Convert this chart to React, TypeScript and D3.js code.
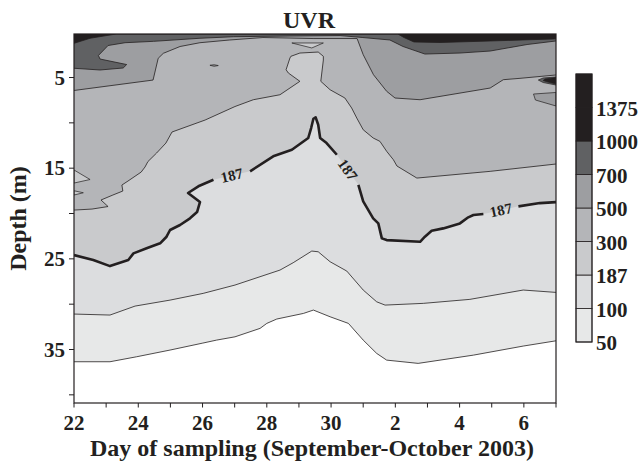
import React from "react";
import * as d3 from "d3";

type P = [number, number];

// Day numbers: 22..30 = September, 31 = 1 October ... 37 = 7 October
const dayRange: [number, number] = [22, 37];
const depthRange: [number, number] = [0.2, 40.9];
const xTickDays = [22, 23, 24, 25, 26, 27, 28, 29, 30, 31, 32, 33, 34, 35, 36, 37];
const xLabelDays = [22, 24, 26, 28, 30, 32, 34, 36];
const xLabelText = ["22", "24", "26", "28", "30", "2", "4", "6"];
const yTickDepths = [5, 10, 15, 20, 25, 30, 35, 40];
const yLabelDepths = [5, 15, 25, 35];

// UVR contour levels (colour bar)
const levels = [50, 100, 187, 300, 500, 700, 1000, 1375];
const bandColors = ["#e7e8e8", "#dcdddf", "#c9cacc", "#b4b5b8", "#9d9ea1", "#606163", "#231f20", "#231f20"];
const belowLowestColor = "#ffffff";

// Isolines: [day, depth (m)]
const iso50: P[] = [[22, 36.35], [23.12, 36.35], [23.95, 35.8], [24.99, 35.06], [26.01, 34.29], [26.44, 33.96], [27.01, 33.6], [27.79, 32.67], [28.0, 32.12], [28.31, 31.64], [29.14, 31.02], [29.45, 30.65], [29.97, 31.39], [30.54, 32.12], [31.0, 33.96], [31.42, 35.43], [31.73, 36.17], [32.71, 36.53], [34.43, 35.62], [35.98, 34.62], [37, 34.04]];
const iso100: P[] = [[22, 31.09], [23.12, 31.2], [23.9, 30.21], [24.99, 29.55], [26.02, 28.81], [27.01, 27.89], [28.41, 26.24], [28.82, 25.43], [29.4, 24.14], [29.6, 24.22], [29.97, 25.32], [30.49, 26.35], [31.0, 28.44], [31.42, 29.74], [31.68, 30.1], [32.87, 29.91], [34.32, 29.47], [35.98, 28.44], [37, 28.7]];
const iso187: P[] = [[22, 24.58], [22.6, 25.13], [23.12, 25.8], [23.69, 25.13], [23.85, 24.4], [24.26, 23.84], [24.68, 23.29], [24.88, 22.56], [24.99, 21.82], [25.3, 21.27], [25.61, 20.53], [25.83, 19.84], [25.92, 18.74], [25.55, 17.74], [25.87, 17.0], [26.34, 16.28], [27.48, 15.35], [28.2, 13.69], [28.78, 12.97], [29.29, 11.67], [29.38, 10.57], [29.45, 9.55], [29.52, 9.39], [29.6, 10.21], [29.66, 11.67], [29.86, 12.23], [30.18, 13.52], [30.85, 16.83], [31.0, 18.66], [31.16, 19.62], [31.31, 20.53], [31.47, 21.09], [31.58, 22.74], [31.73, 22.93], [32.77, 23.12], [32.92, 22.56], [33.13, 21.9], [33.49, 21.64], [34.01, 21.09], [34.27, 20.42], [34.43, 20.17], [34.74, 20.06], [35.83, 19.21], [36.5, 18.85], [37, 18.74]];
const iso300: P[] = [[22, 19.62], [22.56, 19.51], [23.06, 19.23], [22.84, 18.51], [23.21, 17.96], [23.52, 17.52], [23.49, 16.86], [23.68, 16.42], [24.09, 15.43], [24.21, 14.87], [24.3, 14.27], [24.57, 13.33], [24.86, 12.23], [25.05, 11.01], [26.08, 9.69], [27.01, 8.2], [27.58, 7.45], [28.41, 6.9], [29.03, 5.42], [28.67, 4.5], [28.6, 4.14], [28.72, 2.85], [28.75, 2.66], [29.03, 2.3], [29.6, 2.19], [29.76, 2.66], [29.76, 3.07], [29.68, 5.42], [29.97, 6.35], [30.43, 7.26], [30.64, 8.36], [30.8, 9.47], [31.0, 10.76], [31.31, 11.67], [31.52, 12.04], [31.73, 13.14], [31.94, 14.07], [32.05, 14.76], [32.67, 16.09], [34.95, 15.35], [37, 14.54]];
const iso500: P[] = [[22, 6.43], [24.46, 5.28], [24.62, 2.88], [24.78, 2.33], [25.3, 1.58], [25.92, 1.16], [26.85, 0.86], [27.88, 0.59], [29.44, 0.7], [30.81, 0.7], [31.0, 2.48], [31.32, 4.69], [31.73, 6.52], [31.99, 7.26], [32.77, 7.45], [34.95, 6.16], [35.36, 5.24], [35.88, 5.09], [37, 4.72]];
const iso700: P[] = [[22, 3.98], [22.81, 4.17], [23.53, 3.95], [23.64, 3.57], [22.81, 2.96], [22.76, 2.57], [23.06, 1.47], [23.59, 1.16], [24.47, 1.01], [25.92, 0.67], [26.96, 0.5], [28.72, 0.42], [30.28, 0.37], [30.99, 0.59], [31.83, 0.86], [32.24, 1.58], [32.92, 2.41], [34.01, 2.3], [34.95, 2.08], [36.1, 1.36], [37, 0.97]];
const iso1000: P[] = [[22, 1.23], [22.5, 0.67], [23.12, 0.31], [23.31, 0.2], [32.08, 0.2], [32.27, 0.59], [32.58, 1.08], [33.39, 1.14], [34.95, 0.97], [36.91, 0.75], [37, 0.72]];

// small closed contours: points + band index of their interior
const wedge300a: P[] = [[22, 15.2], [22.5, 16.25], [22, 16.64]];
const wedge300b: P[] = [[22, 17.49], [22.29, 17.71], [22, 17.96]];
const patch300Top: P[] = [[28.78, 1.19], [29.76, 1.19], [29.4, 1.74]];
const wedge500Right: P[] = [[37, 6.65], [36.3, 6.82], [36.36, 7.48], [37, 8.14]];
const dash500: P[] = [[26.23, 3.65], [26.36, 3.59], [26.49, 3.68], [26.36, 3.76]];
const wedge700Right: P[] = [[37, 4.94], [36.6, 5.05], [36.45, 5.28], [36.6, 5.55], [37, 5.83]];
const wedge1000Right: P[] = [[37, 5.0], [36.66, 5.16], [36.6, 5.33], [36.75, 5.5], [37, 5.72]];

// label gaps on the 187 isoline (point index pairs)
const labelGaps187: [number, number][] = [[15, 16], [26, 27], [41, 42]];

const ink = "#231f20";
const font = "'Liberation Serif', 'Times New Roman', serif";

export default function App() {
  const x = d3.scaleLinear().domain(dayRange).range([74, 556]);
  const y = d3.scaleLinear().domain(depthRange).range([34, 403]);
  const line = d3.line<P>().x((d) => x(d[0])).y((d) => y(d[1]));
  const [d0, d1] = dayRange;
  const zMax = depthRange[1];
  const below = (pts: P[]) => (line([...pts, [d1, zMax], [d0, zMax]]) || "") + "Z";
  const closed = (pts: P[]) => (line(pts) || "") + "Z";

  const isolines = [iso50, iso100, iso187, iso300, iso500, iso700, iso1000];
  const fills = isolines
    .map((pts, k) => ({ pts, color: k === 0 ? belowLowestColor : bandColors[k - 1] }))
    .reverse();

  const extras: { pts: P[]; band: number }[] = [
    { pts: wedge500Right, band: 4 },
    { pts: dash500, band: 4 },
    { pts: wedge700Right, band: 5 },
    { pts: wedge1000Right, band: 6 },
    { pts: wedge300a, band: 2 },
    { pts: wedge300b, band: 2 },
    { pts: patch300Top, band: 2 },
  ];

  // 187 line split at label gaps
  const segs187: P[][] = [];
  let start = 0;
  labelGaps187.forEach(([a, b]) => {
    segs187.push(iso187.slice(start, a + 1));
    start = b;
  });
  segs187.push(iso187.slice(start));

  const labels187 = labelGaps187.map(([a, b]) => {
    const p = iso187[a], q = iso187[b];
    const x1 = x(p[0]), y1 = y(p[1]), x2 = x(q[0]), y2 = y(q[1]);
    let ang = (Math.atan2(y2 - y1, x2 - x1) * 180) / Math.PI;
    if (ang > 90) ang -= 180;
    if (ang < -90) ang += 180;
    return { cx: (x1 + x2) / 2, cy: (y1 + y2) / 2, ang };
  });

  // colour bar
  const cb = d3.scaleLinear().domain([0, levels.length]).range([342, 74]);
  const cbX = 576, cbW = 16;

  return (
    <svg width={642} height={463} style={{ position: "absolute", left: 0, top: 0, background: "#fff" }} fontFamily={font}>
      <defs>
        <clipPath id="plot">
          <rect x={x(d0)} y={y(depthRange[0])} width={x(d1) - x(d0)} height={y(zMax) - y(depthRange[0])} />
        </clipPath>
      </defs>
      <g clipPath="url(#plot)">
        <rect x={x(d0)} y={y(depthRange[0])} width={x(d1) - x(d0)} height={y(zMax) - y(depthRange[0])} fill={bandColors[6]} />
        {fills.map((f, i) => (
          <path key={"f" + i} d={below(f.pts)} fill={f.color} />
        ))}
        {extras.map((e, i) => (
          <path key={"e" + i} d={closed(e.pts)} fill={bandColors[e.band]} stroke={ink} strokeWidth={0.7} />
        ))}
        {isolines.map((pts, k) =>
          k === 2 ? null : <path key={"l" + k} d={line(pts) || ""} fill="none" stroke={ink} strokeWidth={0.8} />
        )}
        {segs187.map((s, i) => (
          <path key={"s" + i} d={line(s) || ""} fill="none" stroke={ink} strokeWidth={2.6} strokeLinejoin="round" />
        ))}
      </g>
      {labels187.map((l, i) => (
        <text key={"t" + i} x={0} y={0} transform={`translate(${l.cx},${l.cy}) rotate(${l.ang})`} textAnchor="middle" dominantBaseline="central" fontSize={15} fontWeight="bold" fill={ink}>
          187
        </text>
      ))}
      {/* frame */}
      <rect x={x(d0)} y={y(depthRange[0])} width={x(d1) - x(d0)} height={y(zMax) - y(depthRange[0])} fill="none" stroke={ink} strokeWidth={1.2} />
      {/* x ticks */}
      {xTickDays.map((d) => (
        <line key={"xt" + d} x1={x(d)} x2={x(d)} y1={403} y2={407.5} stroke={ink} strokeWidth={1} />
      ))}
      {xLabelDays.map((d, i) => (
        <text key={"xl" + d} x={x(d)} y={430} textAnchor="middle" fontSize={21} fontWeight="bold" fill={ink}>
          {xLabelText[i]}
        </text>
      ))}
      {yTickDepths.map((z) => (
        <line key={"yt" + z} x1={69} x2={74} y1={y(z)} y2={y(z)} stroke={ink} strokeWidth={1} />
      ))}
      {yLabelDepths.map((z) => (
        <text key={"yl" + z} x={65} y={y(z)} textAnchor="end" dominantBaseline="central" fontSize={21} fontWeight="bold" fill={ink}>
          {z}
        </text>
      ))}
      <text x={309} y={28} textAnchor="middle" fontSize={24} fontWeight="bold" fill={ink}>UVR</text>
      <text x={312} y={456} textAnchor="middle" fontSize={24} fontWeight="bold" fill={ink}>
        Day of sampling (September-October 2003)
      </text>
      <text transform={`translate(26,${(y(depthRange[0]) + y(zMax)) / 2}) rotate(-90)`} textAnchor="middle" fontSize={24} fontWeight="bold" fill={ink}>
        Depth (m)
      </text>
      {/* colour bar */}
      {bandColors.map((c, i) => (
        <rect key={"cb" + i} x={cbX} y={cb(i + 1)} width={cbW} height={cb(i) - cb(i + 1)} fill={c} stroke={ink} strokeWidth={0.8} />
      ))}
      <rect x={cbX} y={cb(levels.length)} width={cbW} height={cb(0) - cb(levels.length)} fill="none" stroke={ink} strokeWidth={1} />
      {levels.map((v, i) => (
        <text key={"cl" + v} x={596} y={cb(i) + 1} dominantBaseline="central" fontSize={21} fontWeight="bold" fill={ink}>
          {v}
        </text>
      ))}
    </svg>
  );
}
